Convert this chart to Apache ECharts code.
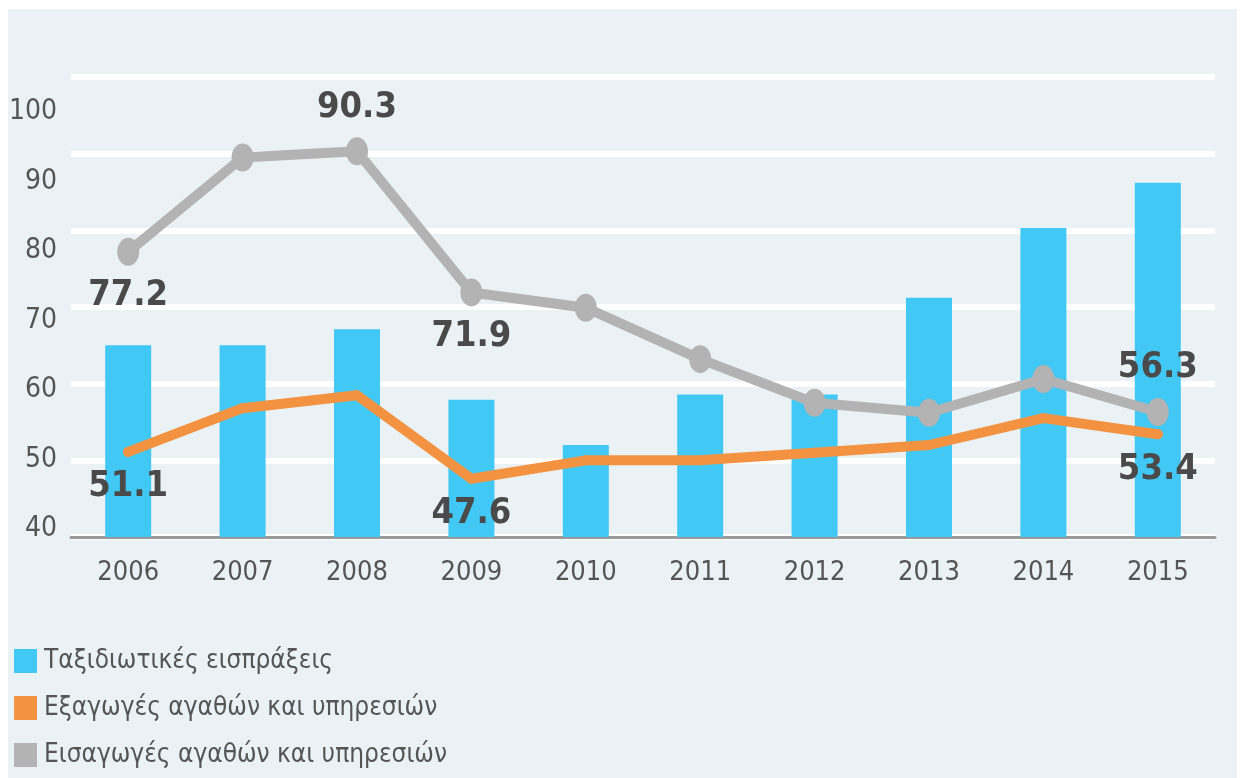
<!DOCTYPE html>
<html>
<head>
<meta charset="utf-8">
<script src="https://cdn.jsdelivr.net/npm/echarts@6/dist/echarts.min.js"></script>
<style>
    html, body { margin: 0; padding: 0; background: #ffffff; }
    #panel { position: absolute; left: 8px; top: 9px; width: 1229px; height: 769px; background: #eaf2f6; }
    #chart { position: absolute; left: 0; top: 0; width: 1243px; height: 778px; }
</style>
</head>
<body>
<div id="panel"></div>
<div id="chart"></div>
<script>
// years on the x axis
const years = ['2006', '2007', '2008', '2009', '2010', '2011', '2012', '2013', '2014', '2015']
// Ταξιδιωτικές εισπράξεις (bars)
const receipts = [65.0, 65.0, 67.1, 57.9, 52.0, 58.6, 58.6, 71.2, 80.3, 86.2]
// Εξαγωγές αγαθών και υπηρεσιών (orange line)
const exportsVals = [51.1, 56.8, 58.5, 47.6, 50.0, 50.0, 51.0, 52.0, 55.5, 53.4]
// Εισαγωγές αγαθών και υπηρεσιών (grey line)
const importsVals = [77.2, 89.5, 90.3, 71.9, 69.9, 63.2, 57.5, 56.2, 60.6, 56.3]
// y tick labels
const yTicks = [40, 50, 60, 70, 80, 90, 100]

const seriesNames = [
    'Ταξιδιωτικές εισπράξεις',
    'Εξαγωγές αγαθών και υπηρεσιών',
    'Εισαγωγές αγαθών και υπηρεσιών'
]

// which points carry a value label, and where
const exportLabelPos = { 0: 'bottom', 3: 'bottom', 9: 'bottom' }
const importLabelPos = { 0: 'bottom', 2: 'top', 3: 'bottom', 9: 'top' }

const axisFont = '"Liberation Sans Narrow", "DejaVu Sans Condensed", "Roboto", sans-serif'
const labelFont = '"DejaVu Sans Condensed", "Liberation Sans Narrow", "Roboto", sans-serif'

function withLabels(values, positions) {
    return values.map(function (v, i) {
        if (positions[i]) {
            return { value: v, label: { show: true, position: positions[i] } }
        }
        return v
    })
}

const valueLabel = {
    show: false,
    color: '#4a4a4a',
    fontFamily: labelFont,
    fontWeight: 'bold',
    fontSize: 36,
    distance: 12
}

const chart = echarts.init(document.getElementById('chart'))

const option = {
    backgroundColor: 'transparent',
    animation: false,
    grid: [
        { left: 71, right: 28, top: 77, bottom: 241 },
        { left: 65, right: 28, top: 112, bottom: 249 }
    ],
    legend: {
        data: seriesNames,
        orient: 'vertical',
        left: 14,
        top: 646,
        padding: 0,
        icon: 'rect',
        itemWidth: 23,
        itemHeight: 24,
        itemGap: 17,
        textStyle: {
            color: '#555555',
            fontFamily: axisFont,
            fontSize: 26,
            lineHeight: 30,
            padding: [0, 0, 0, 2]
        }
    },
    xAxis: [
        {
            type: 'category',
            gridIndex: 0,
            data: years,
            axisLine: { lineStyle: { color: '#9a9a9a', width: 3 } },
            axisTick: { show: false },
            axisLabel: {
                color: '#555555',
                fontFamily: axisFont,
                fontSize: 27,
                margin: 22
            }
        },
        {
            type: 'category',
            gridIndex: 1,
            data: years,
            show: false
        }
    ],
    yAxis: [
        {
            type: 'value',
            gridIndex: 0,
            min: 40,
            max: 100,
            interval: 10,
            axisLine: { show: false },
            axisTick: { show: false },
            axisLabel: { show: false },
            splitLine: { lineStyle: { color: '#ffffff', width: 6 } }
        },
        {
            // tick labels sit on their own evenly spaced scale, as in the source
            type: 'value',
            gridIndex: 1,
            min: yTicks[0],
            max: yTicks[yTicks.length - 1],
            interval: 10,
            axisLine: { show: false },
            axisTick: { show: false },
            splitLine: { show: false },
            axisLabel: {
                color: '#555555',
                fontFamily: axisFont,
                fontSize: 28,
                margin: 8
            }
        }
    ],
    series: [
        {
            name: seriesNames[0],
            type: 'bar',
            xAxisIndex: 0,
            yAxisIndex: 0,
            data: receipts,
            barWidth: 46,
            itemStyle: { color: '#42c8f4' },
            z: 2
        },
        {
            name: seriesNames[1],
            type: 'line',
            xAxisIndex: 0,
            yAxisIndex: 0,
            data: withLabels(exportsVals, exportLabelPos),
            symbol: 'circle',
            symbolSize: 10,
            itemStyle: { color: '#f39240' },
            lineStyle: { color: '#f39240', width: 10, cap: 'round', join: 'round' },
            label: valueLabel,
            z: 3
        },
        {
            name: seriesNames[2],
            type: 'line',
            xAxisIndex: 0,
            yAxisIndex: 0,
            data: withLabels(importsVals, importLabelPos),
            symbol: 'circle',
            symbolSize: [22, 28],
            itemStyle: { color: '#b3b3b3' },
            lineStyle: { color: '#b3b3b3', width: 10, join: 'round' },
            label: valueLabel,
            z: 4
        }
    ]
}

chart.setOption(option)
</script>
</body>
</html>
